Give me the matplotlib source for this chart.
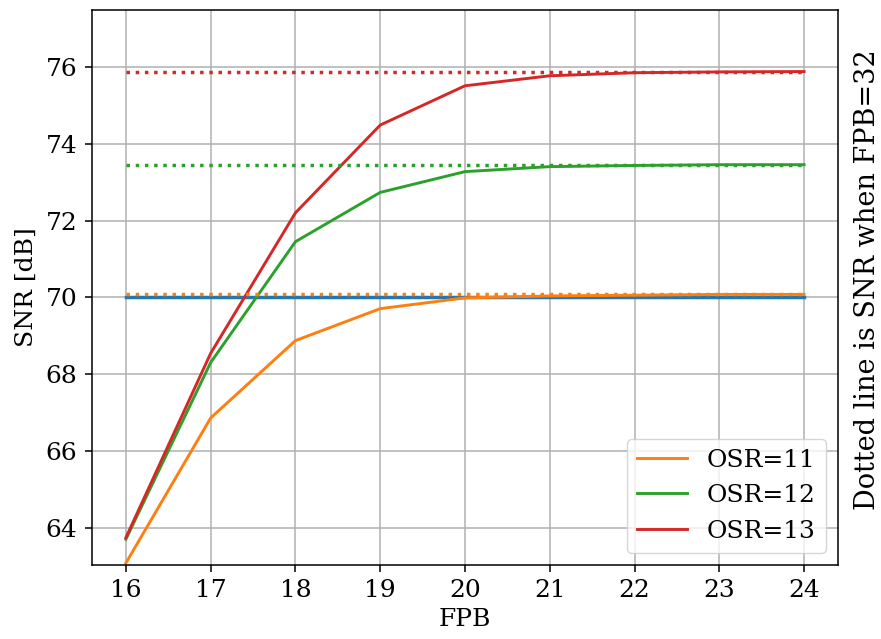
import numpy as np
import matplotlib
matplotlib.use('Agg')
import matplotlib.pyplot as plt

plt.rcParams['font.family'] = 'DejaVu Serif'
plt.rcParams['font.size'] = 18
plt.rcParams['axes.linewidth'] = 1.1
for k in ('xtick', 'ytick'):
    plt.rcParams[k + '.major.size'] = 4.9
    plt.rcParams[k + '.major.width'] = 1.1
    plt.rcParams[k + '.major.pad'] = 5.5

fpb = [16, 17, 18, 19, 20, 21, 22, 23, 24]

# SNR vs FPB for each OSR
snr_osr11 = [63.10, 66.87, 68.88, 69.71, 69.99, 70.04, 70.06, 70.08, 70.08]
snr_osr12 = [63.72, 68.31, 71.45, 72.73, 73.27, 73.40, 73.43, 73.45, 73.45]
snr_osr13 = [63.76, 68.55, 72.20, 74.48, 75.50, 75.76, 75.84, 75.86, 75.87]

# reference values at FPB=32
snr32 = [70.08, 73.45, 75.86]
target = 70.0

fig = plt.figure(figsize=(8.81, 6.39), dpi=100)
ax = fig.add_axes([0.1044, 0.1158, 0.8468, 0.8686])

ax.plot(fpb, [target] * len(fpb), color='tab:blue', lw=2.5)
ax.plot(fpb, snr_osr11, color='tab:orange', lw=2.1, label='OSR=11')
ax.plot(fpb, snr_osr12, color='tab:green', lw=2.1, label='OSR=12')
ax.plot(fpb, snr_osr13, color='tab:red', lw=2.1, label='OSR=13')
for val, c in zip(snr32, ['tab:orange', 'tab:green', 'tab:red']):
    ax.plot(fpb, [val] * len(fpb), color=c, lw=2.5, ls=':')

ax.set_ylim(63.05, 77.47)
ax.set_yticks(np.arange(64, 77, 2))
ax.set_xticks(fpb)
ax.grid(True, color='#b0b0b0', lw=1.1)
ax.set_xlabel('FPB', labelpad=4)
ax.set_ylabel('SNR [dB]', labelpad=6)
ax.legend(loc='lower right')

fig.text(0.985, 0.5626, 'Dotted line is SNR when FPB=32', rotation=90,
         ha='center', va='center', fontsize=19.5)

fig.savefig('out.png', dpi=100)
